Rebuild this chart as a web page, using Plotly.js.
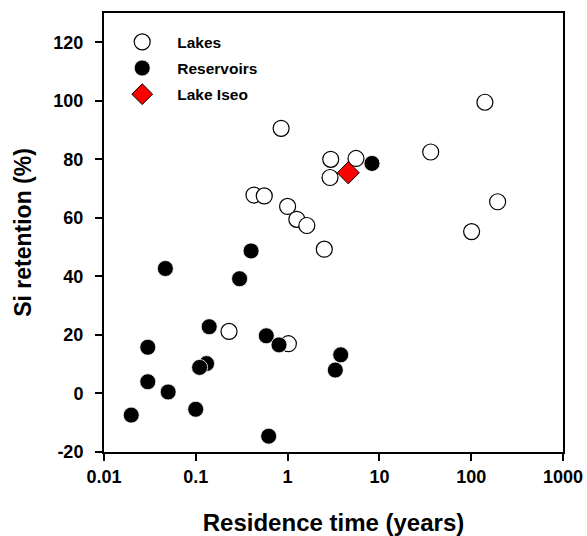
<!DOCTYPE html>
<html>
<head>
<meta charset="utf-8">
<script src="https://cdn.plot.ly/plotly-3.0.1.min.js"></script>
<style>html,body{margin:0;padding:0;background:#fff;}#chart{width:587px;height:536px;}</style>
</head>
<body>
<div id="chart"></div>
<script>
// Lakes (open circles)
const lakesTime = [0.85, 2.95, 2.9, 0.43, 0.557, 1.0, 1.26, 1.62, 141, 36.2, 5.56, 194, 101, 2.51, 0.23, 1.02];
const lakesRet  = [90.6, 80.0, 73.8, 67.8, 67.5, 63.9, 59.5, 57.4, 99.5, 82.5, 80.3, 65.5, 55.3, 49.3, 21.2, 17.0];
// Reservoirs (filled circles)
const resTime = [0.40, 0.0466, 0.30, 0.140, 0.030, 0.586, 0.806, 0.131, 0.110, 0.030, 0.050, 0.0998, 0.0198, 0.622, 3.79, 3.31, 8.3];
const resRet  = [48.7, 42.7, 39.2, 22.8, 15.8, 19.7, 16.6, 10.2, 8.9, 4.0, 0.5, -5.4, -7.4, -14.6, 13.2, 8.0, 78.6];
// Lake Iseo
const iseoTime = [4.58];
const iseoRet  = [75.4];
// Tick labels
const xTickVals = [0.01, 0.1, 1, 10, 100, 1000];
const xTickText = ["0.01", "0.1", "1", "10", "100", "1000"];
const yTickVals = [-20, 0, 20, 40, 60, 80, 100, 120];
const yTickText = ["-20", "0", "20", "40", "60", "80", "100", "120"];

const FONT = "Arial, 'Liberation Sans', sans-serif";

const traces = [
  {x: lakesTime, y: lakesRet, name: "Lakes", type: "scatter", mode: "markers", legendgroup: "a",
   marker: {symbol: "circle", size: 16, color: "#ffffff", line: {color: "#000000", width: 1.2}}},
  {x: resTime, y: resRet, name: "Reservoirs", type: "scatter", mode: "markers", legendgroup: "b",
   marker: {symbol: "circle", size: 16, color: "#000000", line: {color: "#ffffff", width: 0.8}}},
  {x: iseoTime, y: iseoRet, name: "Lake Iseo", type: "scatter", mode: "markers", legendgroup: "c",
   marker: {symbol: "diamond", size: 17, color: "#ff0000", line: {color: "#000000", width: 1}}}
];

const layout = {
  width: 587, height: 536,
  margin: {l: 104, r: 24, t: 13, b: 84},
  paper_bgcolor: "#ffffff", plot_bgcolor: "#ffffff",
  font: {family: FONT, color: "#000000"},
  showlegend: true,
  legend: {x: 0.007, y: 0.972, xanchor: "left", yanchor: "top", bgcolor: "rgba(0,0,0,0)",
           font: {family: FONT, size: 15.5, weight: "bold", color: "#000"}, tracegroupgap: 3, itemwidth: 60},
  xaxis: {type: "log", range: [-2, 3], tickvals: xTickVals, ticktext: xTickText,
          showline: true, linecolor: "#000", linewidth: 2, mirror: true,
          ticks: "outside", ticklen: 7, tickwidth: 2, tickcolor: "#000", showgrid: false, zeroline: false,
          tickfont: {family: FONT, size: 18, weight: "bold"},
          title: {text: "Residence time (years)", font: {family: FONT, size: 24, weight: "bold"}, standoff: 30}},
  yaxis: {range: [-20, 130], tickvals: yTickVals, ticktext: yTickText,
          showline: true, linecolor: "#000", linewidth: 2, mirror: true,
          ticks: "outside", ticklen: 7, tickwidth: 2, tickcolor: "#000", showgrid: false, zeroline: false,
          ticklabelstandoff: 8,
          tickfont: {family: FONT, size: 18, weight: "bold"},
          title: {text: "Si retention (%)", font: {family: FONT, size: 23, weight: "bold"}, standoff: 15}}
};

Plotly.newPlot("chart", traces, layout, {displayModeBar: false, staticPlot: true});
</script>
</body>
</html>
